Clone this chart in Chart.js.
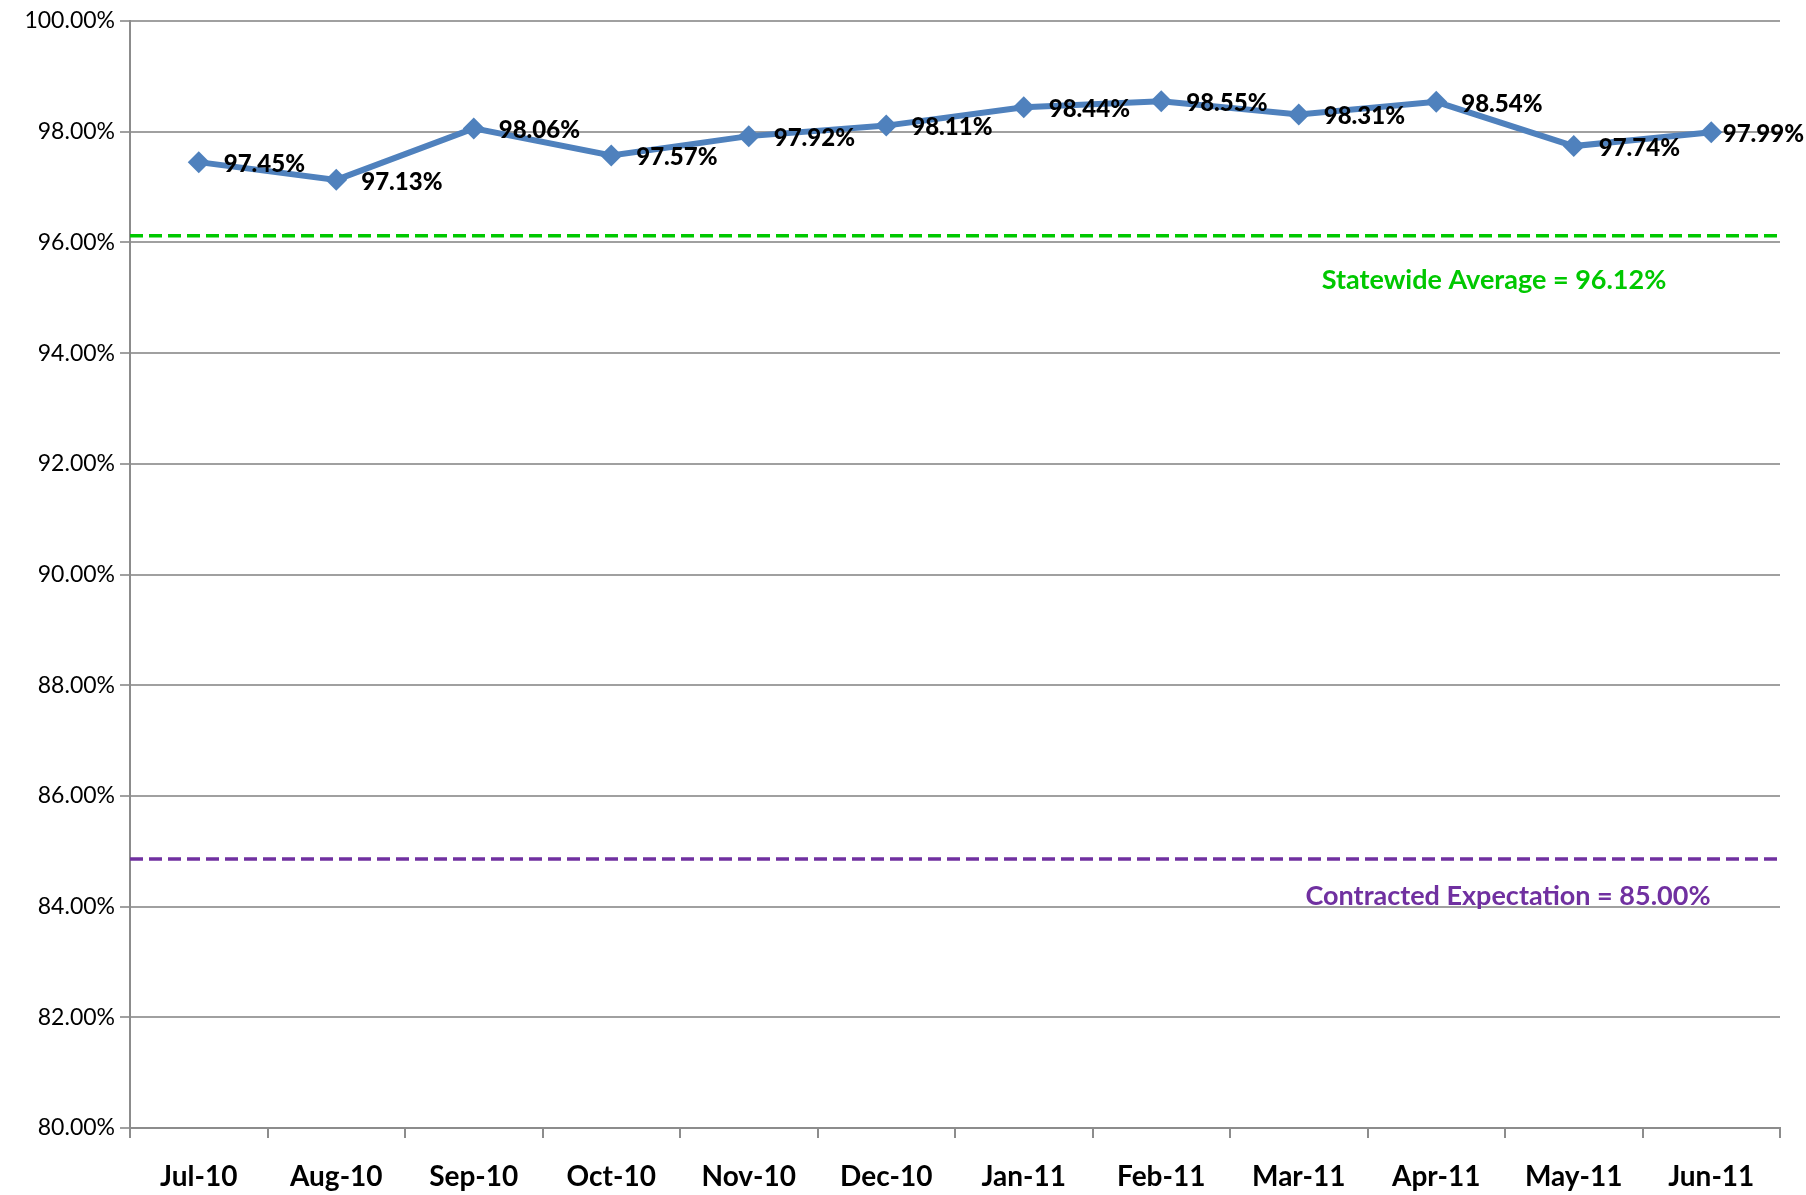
<!DOCTYPE html>
<html>
<head>
<meta charset="utf-8">
<script src="https://cdn.jsdelivr.net/npm/chart.js@4/dist/chart.umd.min.js"></script>
<style>
  html, body { margin: 0; padding: 0; background: #fff; }
  #wrap { width: 1806px; height: 1195px; }
</style>
</head>
<body>
<div id="wrap"><canvas id="myChart" width="1806" height="1195"></canvas></div>
<script>
// Datos del gráfico
const months = ['Jul-10', 'Aug-10', 'Sep-10', 'Oct-10', 'Nov-10', 'Dec-10',
  'Jan-11', 'Feb-11', 'Mar-11', 'Apr-11', 'May-11', 'Jun-11'];
const rates = [97.45, 97.13, 98.06, 97.57, 97.92, 98.11, 98.44, 98.55, 98.31, 98.54, 97.74, 97.99];

// Líneas de referencia (valor dibujado, texto)
const statewideValue = 96.12;
const statewideLabel = 'Statewide Average = 96.12%';
const contractedValue = 84.86;
const contractedLabel = 'Contracted Expectation = 85.00%';

const yMin = 80;
const yMax = 100;
const yStep = 2;

const FONT = 'Lato, "Open Sans", sans-serif';

// Plugin: líneas discontinuas de referencia y sus textos
const refLines = {
  id: 'refLines',
  afterDatasetsDraw(chart) {
    const { ctx, chartArea, scales } = chart;
    const lines = [
      { v: statewideValue, color: '#00C800', text: statewideLabel, dy: 45, cx: chartArea.right - 286 },
      { v: contractedValue, color: '#7030A0', text: contractedLabel, dy: 37, cx: chartArea.right - 272 }
    ];
    ctx.save();
    lines.forEach(l => {
      const y = scales.y.getPixelForValue(l.v);
      ctx.strokeStyle = l.color;
      ctx.lineWidth = 3.5;
      ctx.setLineDash([13, 6]);
      ctx.beginPath();
      ctx.moveTo(chartArea.left, y);
      ctx.lineTo(chartArea.right, y);
      ctx.stroke();
      ctx.setLineDash([]);
      ctx.fillStyle = l.color;
      ctx.font = 'bold 27px ' + FONT;
      ctx.textAlign = 'center';
      ctx.textBaseline = 'middle';
      ctx.fillText(l.text, l.cx, y + l.dy);
    });
    ctx.restore();
  }
};

// Plugin: etiquetas de valor a la derecha de cada punto
const pointLabels = {
  id: 'pointLabels',
  afterDatasetsDraw(chart) {
    const { ctx } = chart;
    const meta = chart.getDatasetMeta(0);
    ctx.save();
    ctx.font = '900 24px ' + FONT;
    ctx.fillStyle = '#000';
    ctx.textAlign = 'left';
    ctx.textBaseline = 'middle';
    meta.data.forEach((pt, i) => {
      const txt = rates[i].toFixed(2) + '%';
      const w = ctx.measureText(txt).width;
      let x = pt.x + 25;
      if (x + w > chart.width - 2) x = chart.width - 2 - w;
      ctx.fillText(txt, x, pt.y + 2);
    });
    ctx.restore();
  }
};

const canvas = document.getElementById('myChart');
const ctx = canvas.getContext('2d');

const chart = new Chart(ctx, {
  type: 'line',
  data: {
    labels: months,
    datasets: [{
      label: 'Rate',
      data: rates,
      borderColor: '#4F81BD',
      backgroundColor: '#4F81BD',
      borderWidth: 6,
      pointStyle: 'rectRot',
      pointRadius: 11,
      pointBorderWidth: 0,
      tension: 0
    }]
  },
  options: {
    responsive: false,
    animation: false,
    layout: { padding: { top: 21, right: 26, left: 0, bottom: 0 } },
    plugins: {
      legend: { display: false },
      tooltip: { enabled: false }
    },
    scales: {
      x: {
        offset: true,
        grid: {
          display: true,
          offset: true,
          drawOnChartArea: false,
          drawTicks: true,
          tickLength: 10,
          color: '#8C8C8C',
          lineWidth: 2
        },
        border: { color: '#8C8C8C', width: 2 },
        ticks: {
          color: '#000',
          font: { family: FONT, size: 28, weight: 'bold' },
          padding: 22,
          maxRotation: 0,
          autoSkip: false
        },
        afterFit(scale) { scale.height = 67; }
      },
      y: {
        min: yMin,
        max: yMax,
        grid: {
          color: '#A0A0A0',
          lineWidth: 2,
          tickLength: 10
        },
        border: { color: '#8C8C8C', width: 2 },
        ticks: {
          stepSize: yStep,
          color: '#000',
          font: { family: FONT, size: 23 },
          padding: 5,
          callback: v => v.toFixed(2) + '%'
        },
        afterFit(scale) { scale.width = 130; }
      }
    }
  },
  plugins: [refLines, pointLabels]
});
</script>
</body>
</html>
